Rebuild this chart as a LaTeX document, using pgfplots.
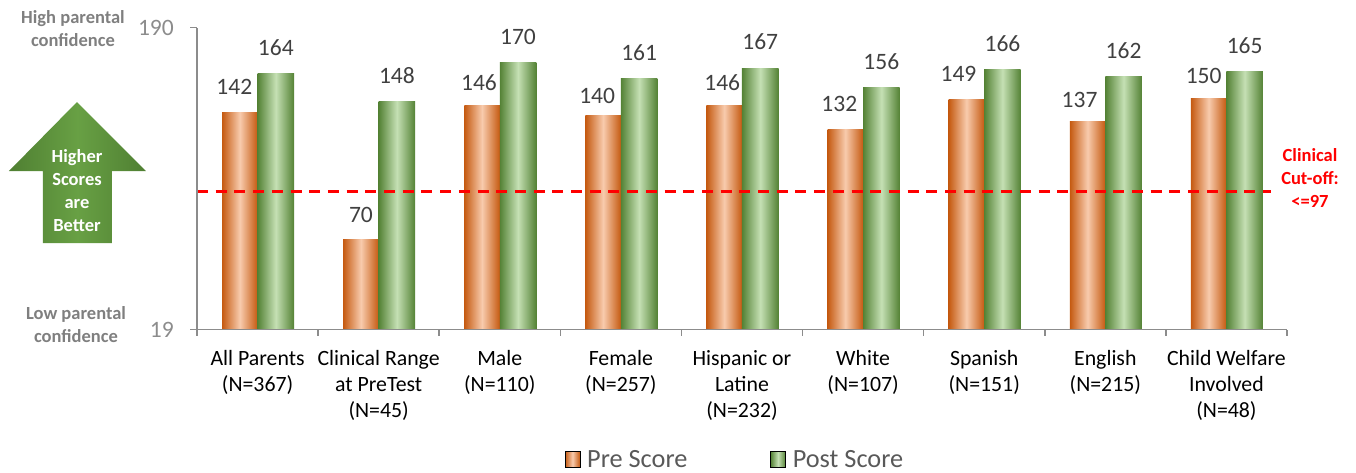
\documentclass[border=0pt]{standalone}
\usepackage{pgfplots}
\pgfplotsset{compat=1.18}
\usepackage{pgfplotstable}
\usepackage{fontspec}
\setmainfont{Carlito}

\definecolor{axisgray}{HTML}{8C8C8C}
\definecolor{labelgray}{HTML}{404040}
\definecolor{legendgray}{HTML}{595959}
\definecolor{sidegray}{HTML}{7F7F7F}
\definecolor{preedge}{HTML}{C55A11}
\definecolor{precentre}{HTML}{F8CBAD}
\definecolor{postedge}{HTML}{548235}
\definecolor{postcentre}{HTML}{C5E0B4}
\definecolor{arrowedge}{HTML}{4F7F32}
\definecolor{arrowcentre}{HTML}{68A044}

% tikz shows the middle 25bp..75bp of a shading across the path
\pgfdeclarehorizontalshading{preshade}{100bp}{
  color(0bp)=(preedge);
  color(25bp)=(preedge);
  color(50bp)=(precentre);
  color(75bp)=(preedge);
  color(100bp)=(preedge)}
\pgfdeclarehorizontalshading{postshade}{100bp}{
  color(0bp)=(postedge);
  color(25bp)=(postedge);
  color(50bp)=(postcentre);
  color(75bp)=(postedge);
  color(100bp)=(postedge)}
\pgfdeclarehorizontalshading{arrowshade}{100bp}{
  color(0bp)=(arrowedge);
  color(25bp)=(arrowedge);
  color(50bp)=(arrowcentre);
  color(75bp)=(arrowedge);
  color(100bp)=(arrowedge)}

% dx, dy: pre label offset from the top centre of its bar
\pgfplotstableread{
idx pre post dx dy
0 142 164 -5.5 18
1 70  148 0 17
2 146 170 -3 14
3 140 161 -6 12
4 146 167 -2 14
5 132 156 -6 18
6 149 166 -8 18
7 137 162 -8 13
8 150 165 -5 14
}\scores

\begin{document}
\begin{tikzpicture}[x=1pt,y=1pt]
\path[use as bounding box] (-197,-142.5) rectangle (1159,329.5);
\begin{axis}[
    scale only axis,
    width=1090pt,
    height=302pt,
    xmin=-0.5, xmax=8.5,
    ymin=19, ymax=190,
    axis x line=bottom,
    axis y line=left,
    axis line style={-,draw=axisgray,line width=1.6pt},
    axis on top,
    tick align=outside,
    /pgf/number format/assume math mode=true,
    ytick={19,190},
    major tick length=7pt,
    ytick style={draw=axisgray,line width=1.6pt},
    yticklabel style={font=\fontsize{23.5}{26}\selectfont,text=axisgray,inner sep=0pt,xshift=-16pt},
    xtick={0,...,8},
    xticklabels={
      {All Parents\\(N=367)},
      {Clinical Range\\at PreTest\\(N=45)},
      {Male\\(N=110)},
      {Female\\(N=257)},
      {Hispanic or\\Latine\\(N=232)},
      {White\\(N=107)},
      {Spanish\\(N=151)},
      {English\\(N=215)},
      {Child Welfare\\Involved\\(N=48)}},
    xticklabel style={font=\fontsize{21.8}{26}\selectfont,align=center,text=black,inner sep=0pt,yshift=-13.5pt},
    xtick style={draw=none},
    minor xtick={-0.5,0.5,...,8.5},
    minor tick length=6pt,
    minor x tick style={draw=axisgray,line width=1.6pt},
    legend columns=2,
    legend style={
      draw=none,fill=none,
      at={(0.4936,-0.43)},anchor=center,
      font=\fontsize{26.3}{28}\selectfont,
      text=legendgray,
      inner sep=0pt,
      /tikz/every even column/.style={column sep=81pt}},
    every node near coord/.append style={
      font=\fontsize{23.5}{26}\selectfont,text=labelgray,inner sep=0pt,anchor=south},
]
\addlegendimage{legend image code/.code={\path[shade,shading=preshade] (0pt,-8pt) rectangle (15pt,8pt); \path (20pt,0pt);}}
\addlegendentry{Pre Score}
\addlegendimage{legend image code/.code={\path[shade,shading=postshade] (0pt,-8pt) rectangle (15pt,8pt); \path (20pt,0pt);}}
\addlegendentry{Post Score}
% one plot per bar, each bar needs a shading of its own
\pgfplotsinvokeforeach{0,...,8}{
  \addplot[forget plot,ybar,bar width=35.5pt,bar shift=-17.75pt,draw=none,shade,shading=preshade,
      visualization depends on={\thisrow{dx} \as \dx},
      visualization depends on={\thisrow{dy} \as \dy},
      nodes near coords,
      every node near coord/.append style={xshift=-17.75pt+\dx pt,yshift=\dy pt}]
    table[x=idx,y=pre,restrict x to domain=#1:#1] {\scores};
  \addplot[forget plot,ybar,bar width=36.5pt,bar shift=18.25pt,draw=none,shade,shading=postshade,
      nodes near coords,
      every node near coord/.append style={xshift=18.25pt,yshift=18pt}]
    table[x=idx,y=post,restrict x to domain=#1:#1] {\scores};
}
\addplot[forget plot,no markers,red,line width=2.6pt,dash pattern=on 11pt off 7.7pt]
  coordinates {(-0.5,97) (8.37,97)};
\end{axis}

% annotations, positions in pixels of the reference
\begin{scope}[shift={(-197,329.5)},y=-1pt]
  \path[shade,shading=arrowshade] (77,102) -- (146,171) -- (112,171) -- (112,243)
     -- (43,243) -- (43,171) -- (9,171) -- cycle;
  \node[align=center,text=white,font=\fontsize{18.5}{23}\selectfont\bfseries] at (77,191) {Higher\\Scores\\are\\Better};
  \node[align=center,text=sidegray,font=\fontsize{18.5}{23}\selectfont\bfseries] at (73,29) {High parental\\confidence};
  \node[align=center,text=sidegray,font=\fontsize{18.5}{23}\selectfont\bfseries] at (76,325) {Low parental\\confidence};
  \node[align=center,text=red,font=\fontsize{18.5}{23}\selectfont\bfseries] at (1310,178) {Clinical\\Cut-off:\\<=97};
\end{scope}
\end{tikzpicture}
\end{document}
